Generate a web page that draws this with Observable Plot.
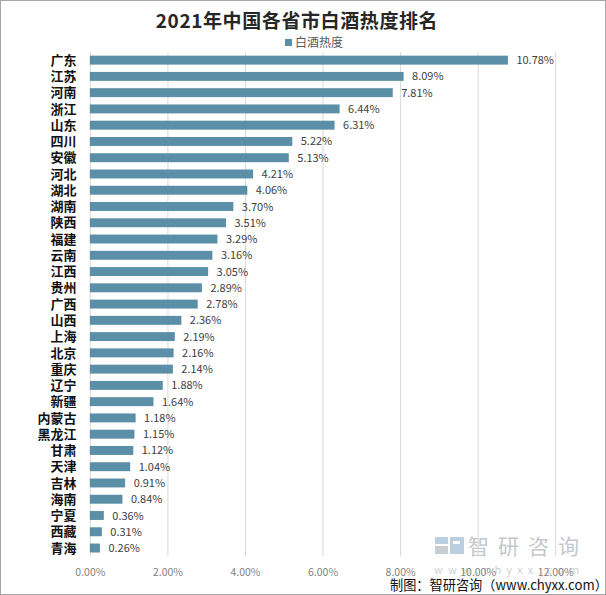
<!DOCTYPE html>
<html><head><meta charset="utf-8">
<script src="https://cdn.jsdelivr.net/npm/d3@7"></script>
<script src="https://cdn.jsdelivr.net/npm/@observablehq/plot@0.6"></script>
<style>
html,body{margin:0;padding:0;background:#fff;}
#wrap{position:relative;width:606px;height:595px;box-sizing:border-box;border:1px solid #a6a6a6;overflow:hidden;font-family:"Noto Sans CJK SC","Noto Sans",sans-serif;}
#title{position:absolute;left:0;width:592px;top:6px;text-align:center;font-size:19px;letter-spacing:0.6px;font-weight:bold;color:#262626;line-height:26px;white-space:nowrap;}
#legend{position:absolute;left:284px;top:33px;font-size:12px;color:#595959;line-height:16px;white-space:nowrap;}
#legend span.sw{display:inline-block;width:7px;height:7px;background:#5b8fa8;margin-right:3px;vertical-align:1px;}
#chart{position:absolute;left:-1px;top:49px;}
#icon{position:absolute;left:434px;top:536px;width:29px;height:17px;}
#icon i{position:absolute;display:block;}
#wm{position:absolute;left:467px;top:529px;color:#c3c8ce;font-size:21px;letter-spacing:9px;line-height:30px;white-space:nowrap;}
#wm2{position:absolute;left:433px;top:561px;color:#cfd2d5;font-size:11px;letter-spacing:5.2px;line-height:14px;white-space:nowrap;}
#cap{position:absolute;left:389px;top:576px;font-size:13.2px;color:#111;line-height:16px;white-space:nowrap;}
</style></head>
<body><div id="wrap">
<div id="title">2021年中国各省市白酒热度排名</div>
<div id="legend"><span class="sw"></span>白酒热度</div>
<div id="icon">
  <i style="left:0;top:0;width:13px;height:7px;background:#bccfe0"></i>
  <i style="left:0;top:9px;width:13px;height:8px;background:#c9ced4"></i>
  <i style="left:15px;top:0;width:14px;height:17px;background:#bccfe0"></i>
  <i style="left:18px;top:4px;width:7px;height:3px;background:#fff"></i>
</div>
<div id="wm">智研咨询</div>
<div id="wm2">www.chyxx.com</div>
<div id="chart"></div>
<div id="cap">制图：智研咨询（www.chyxx.com）</div>
</div>
<script>
const provinces = ["广东","江苏","河南","浙江","山东","四川","安徽","河北","湖北","湖南","陕西","福建","云南","江西","贵州","广西","山西","上海","北京","重庆","辽宁","新疆","内蒙古","黑龙江","甘肃","天津","吉林","海南","宁夏","西藏","青海"];
const heat = [10.78,8.09,7.81,6.44,6.31,5.22,5.13,4.21,4.06,3.70,3.51,3.29,3.16,3.05,2.89,2.78,2.36,2.19,2.16,2.14,1.88,1.64,1.18,1.15,1.12,1.04,0.91,0.84,0.36,0.31,0.26];
const xTicks = [0,2,4,6,8,10,12];
const data = provinces.map((p,i)=>({p, v: heat[i]}));
const fmt = d => d.toFixed(2) + "%";
const chart = Plot.plot({
  width: 606,
  height: 545,
  marginLeft: 90,
  marginRight: 11,
  marginTop: 2,
  marginBottom: 38,
  style: {fontFamily: '"Noto Sans CJK SC","Noto Sans",sans-serif', background: "transparent"},
  x: {domain: [0, 13], axis: null},
  y: {domain: provinces, paddingInner: 0.45, paddingOuter: 0.225, round: false, axis: null},
  marks: [
    Plot.ruleX(xTicks, {stroke: "#d9d9d9", strokeWidth: 1}),
    Plot.axisX(xTicks, {tickSize: 0, tickPadding: 12, tickFormat: fmt, fontSize: 10.5, fill: "#7f7f7f", label: null}),
    Plot.axisY({tickSize: 0, tickPadding: 14, fontSize: 13, fontWeight: "bold", fill: "#111", label: null}),
    Plot.barX(data, {x: "v", y: "p", fill: "#5b8fa8"}),
    Plot.text(data, {x: "v", y: "p", text: d => fmt(d.v), dx: 8, textAnchor: "start", fontSize: 11, fill: "#404040"})
  ]
});
document.getElementById("chart").appendChild(chart);
</script>
</body></html>
